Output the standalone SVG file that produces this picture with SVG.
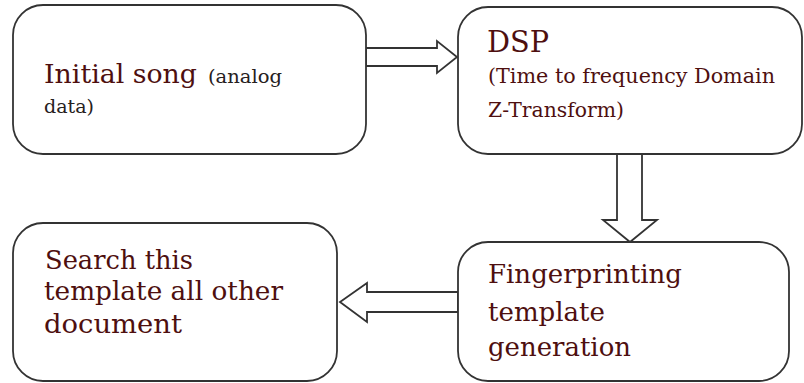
<svg xmlns="http://www.w3.org/2000/svg" width="804" height="383" viewBox="0 0 804 383">
  <style>
    .box { fill: #ffffff; stroke: #333333; stroke-width: 1.8; }
    .arrow { fill: #ffffff; stroke: #333333; stroke-width: 1.8; stroke-linejoin: miter; }
    .t { font-family: "DejaVu Serif", "Liberation Serif", serif; fill: #4e0f0f; }
    .big { font-size: 26px; }
    .small { font-size: 19px; }
    .dark { fill: #262020; }
  </style>
  <rect width="804" height="383" fill="#ffffff"/>

  <!-- block arrows between the stages -->
  <g id="connectors">
    <polygon class="arrow" points="366,48 437,48 437,41 457,57 437,73 437,66 366,66"/>
    <polygon class="arrow" points="617,154 642,154 642,220 657,220 630,242 603,220 617,220"/>
    <polygon class="arrow" points="458,292 367,292 367,283 340,302 367,322 367,312 458,312"/>
  </g>

  <g id="initial-song">
    <rect class="box" x="13" y="5" width="353" height="149" rx="30" ry="30"/>
    <text class="t big" x="44" y="83" textLength="153" lengthAdjust="spacingAndGlyphs">Initial song</text>
    <text class="t small dark" x="208" y="83" textLength="74" lengthAdjust="spacingAndGlyphs">(analog</text>
    <text class="t small dark" x="44" y="113" textLength="50" lengthAdjust="spacingAndGlyphs">data)</text>
  </g>

  <g id="dsp">
    <rect class="box" x="458" y="7" width="344" height="147" rx="30" ry="30"/>
    <text class="t" font-size="30" x="487" y="52" textLength="62" lengthAdjust="spacingAndGlyphs">DSP</text>
    <text class="t" font-size="20" x="488" y="83" textLength="287" lengthAdjust="spacingAndGlyphs">(Time to frequency Domain</text>
    <text class="t" font-size="20" x="488" y="117" textLength="136" lengthAdjust="spacingAndGlyphs">Z-Transform)</text>
  </g>

  <g id="fingerprinting">
    <rect class="box" x="458" y="242" width="331" height="139" rx="30" ry="30"/>
    <text class="t big" x="488" y="283" textLength="194" lengthAdjust="spacingAndGlyphs">Fingerprinting</text>
    <text class="t big" x="488" y="321" textLength="117" lengthAdjust="spacingAndGlyphs">template</text>
    <text class="t big" x="488" y="356" textLength="143" lengthAdjust="spacingAndGlyphs">generation</text>
  </g>

  <g id="search">
    <rect class="box" x="13" y="223" width="324" height="158" rx="30" ry="30"/>
    <text class="t big" x="45" y="269" textLength="148" lengthAdjust="spacingAndGlyphs">Search this</text>
    <text class="t big" x="44" y="300" textLength="239" lengthAdjust="spacingAndGlyphs">template all other</text>
    <text class="t big" x="44" y="333" textLength="138" lengthAdjust="spacingAndGlyphs">document</text>
  </g>
</svg>
